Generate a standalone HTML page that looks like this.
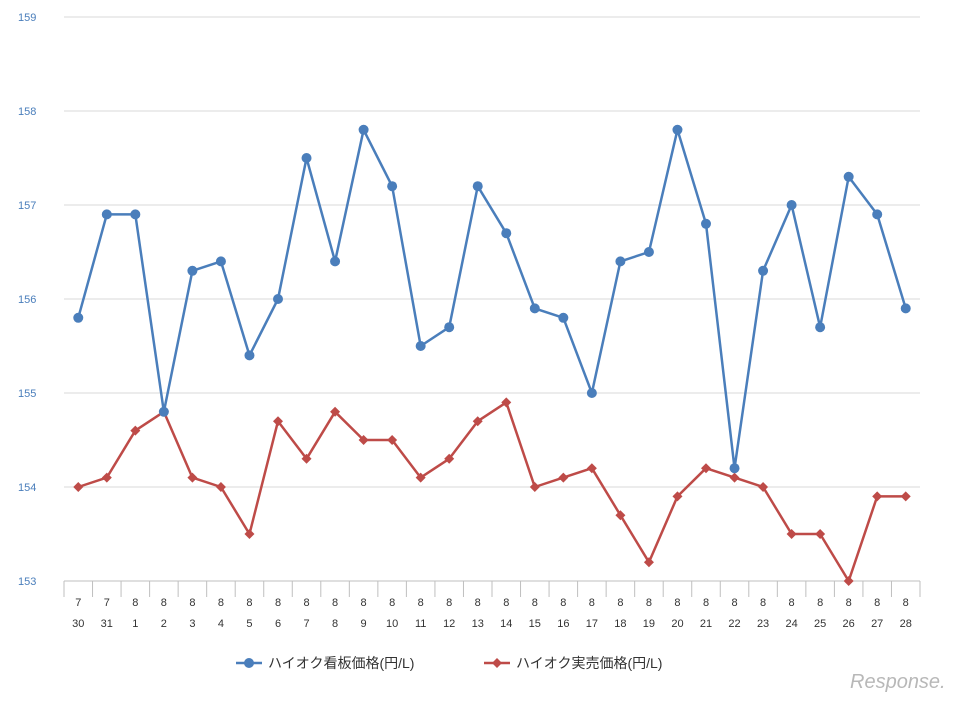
<!DOCTYPE html>
<html><head><meta charset="utf-8"><style>
body{margin:0;background:#fff;}
svg text{font-family:"Liberation Sans","Noto Sans CJK JP",sans-serif;}
</style></head><body>
<svg id="chart" width="968" height="702" xmlns="http://www.w3.org/2000/svg">
<g id="grid"></g>
<g id="yaxis"></g>
<g id="xaxis"></g>
<g id="series"></g>
<g>
 <g>
  <line x1="236" y1="663" x2="262" y2="663" stroke="#4a7ebb" stroke-width="2.5"/>
  <circle cx="249" cy="663" r="5" fill="#4a7ebb"/>
  <text x="268" y="668" font-size="14" fill="#333">ハイオク看板価格(円/L)</text>
 </g>
 <g>
  <line x1="484" y1="663" x2="510" y2="663" stroke="#be4b48" stroke-width="2.5"/>
  <path d="M497 658 L502 663 L497 668 L492 663Z" fill="#be4b48"/>
  <text x="516" y="668" font-size="14" fill="#333">ハイオク実売価格(円/L)</text>
 </g>
</g>
<text x="850" y="688" font-size="20" font-style="italic" fill="#b8b8b8">Response.</text>
</svg>
<script>
const categoriesMonth=["7","7","8","8","8","8","8","8","8","8","8","8","8","8","8","8","8","8","8","8","8","8","8","8","8","8","8","8","8","8"];
const categoriesDay=["30","31","1","2","3","4","5","6","7","8","9","10","11","12","13","14","15","16","17","18","19","20","21","22","23","24","25","26","27","28"];
const postedPrice=[155.8,156.9,156.9,154.8,156.3,156.4,155.4,156.0,157.5,156.4,157.8,157.2,155.5,155.7,157.2,156.7,155.9,155.8,155.0,156.4,156.5,157.8,156.8,154.2,156.3,157.0,155.7,157.3,156.9,155.9];
const actualPrice=[154.0,154.1,154.6,154.8,154.1,154.0,153.5,154.7,154.3,154.8,154.5,154.5,154.1,154.3,154.7,154.9,154.0,154.1,154.2,153.7,153.2,153.9,154.2,154.1,154.0,153.5,153.5,153.0,153.9,153.9];
const yTicks=[153,154,155,156,157,158,159];
const NS="http://www.w3.org/2000/svg";
const x0=64,x1=920,yMin=153,yMax=159,yTop=17,yBot=581;
const bw=(x1-x0)/categoriesDay.length;
function xs(i){return x0+bw*(i+0.5);}
function ys(v){return yBot-(v-yMin)/(yMax-yMin)*(yBot-yTop);}
function mk(tag,attrs,parent){const e=document.createElementNS(NS,tag);for(const k in attrs)e.setAttribute(k,attrs[k]);parent.appendChild(e);return e;}
const grid=document.getElementById('grid'),ya=document.getElementById('yaxis'),xa=document.getElementById('xaxis'),se=document.getElementById('series');
yTicks.forEach(t=>{
 if(t!==yMin){const l=mk('line',{x1:x0,x2:x1,y1:ys(t),y2:ys(t),stroke:'#d9d9d9','stroke-width':1},grid);
 
 }
 const tx=mk('text',{x:18,y:ys(t)+4,'font-size':11,fill:'#4a7ebb'},ya);tx.textContent=t;
 
 
});
const ax=mk('line',{x1:x0,x2:x1,y1:yBot,y2:yBot,stroke:'#bfbfbf','stroke-width':1},xa);


for(let i=0;i<=categoriesDay.length;i++){mk('line',{x1:x0+bw*i,x2:x0+bw*i,y1:yBot,y2:yBot+16,stroke:'#bfbfbf','stroke-width':1},xa);}
categoriesDay.forEach((d,i)=>{
 const t1=mk('text',{x:xs(i),y:606,'font-size':11,fill:'#333','text-anchor':'middle'},xa);t1.textContent=categoriesMonth[i];
 
 
 const t2=mk('text',{x:xs(i),y:627,'font-size':11,fill:'#333','text-anchor':'middle'},xa);t2.textContent=d;
 
 
});
function drawSeries(vals,color,shape,name){
 const p=mk('polyline',{points:vals.map((v,i)=>xs(i)+','+ys(v)).join(' '),fill:'none',stroke:color,'stroke-width':2.5,'stroke-linejoin':'round'},se);
 
 
 vals.forEach((v,i)=>{
  let m;const cx=xs(i),cy=ys(v);
  if(shape==='circle')m=mk('circle',{cx:cx,cy:cy,r:5,fill:color},se);
  else m=mk('path',{d:`M${cx} ${cy-5}L${cx+5} ${cy}L${cx} ${cy+5}L${cx-5} ${cy}Z`,fill:color},se);
  
  
 });
}
drawSeries(actualPrice,'#be4b48','diamond','actual-price');
drawSeries(postedPrice,'#4a7ebb','circle','posted-price');
</script>
</body></html>
